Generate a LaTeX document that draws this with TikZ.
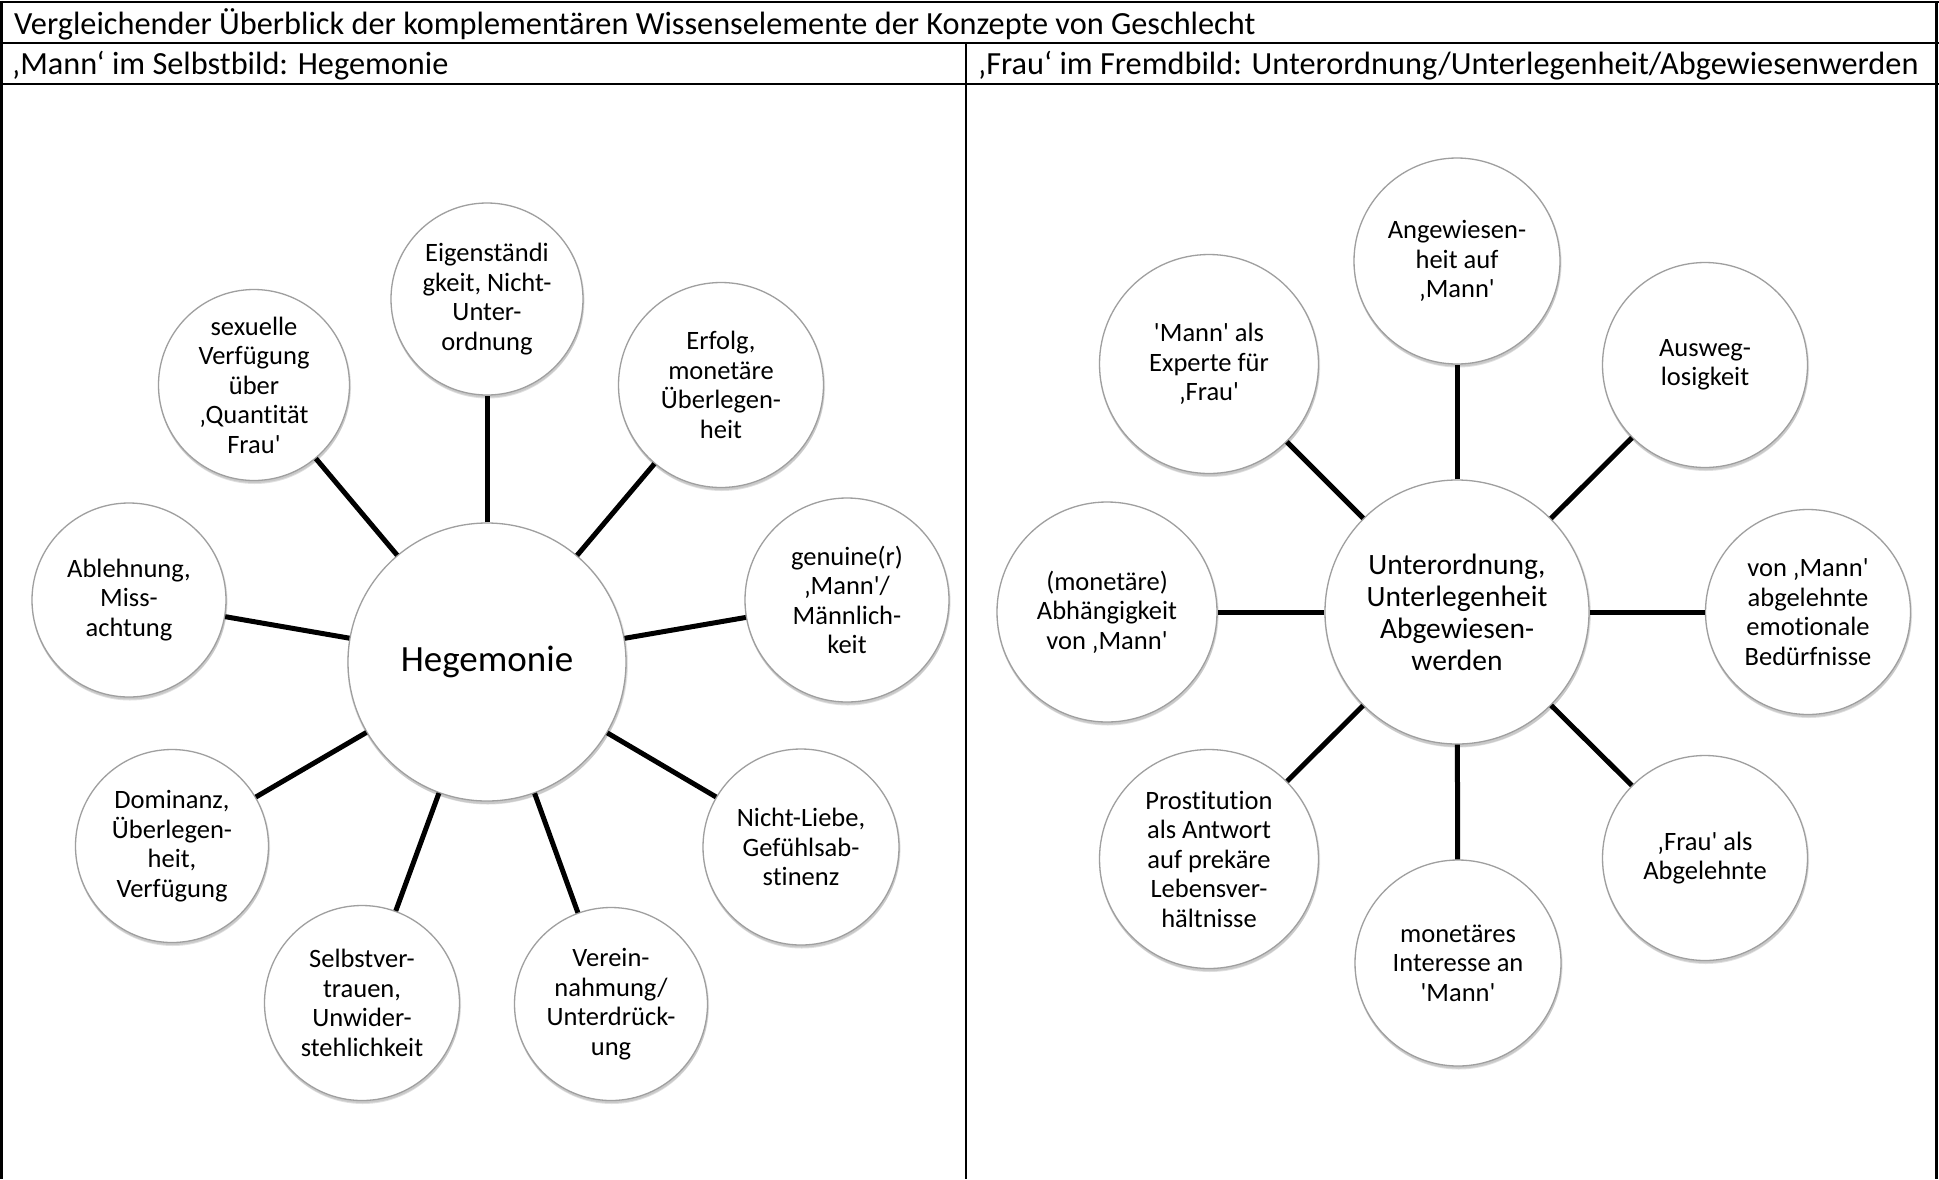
\documentclass[tikz,border=0pt]{standalone}
\usepackage{fontspec}
\setmainfont{Carlito}[Ligatures={TeXOff,NoCommon}]
\usetikzlibrary{shadows}
\begin{document}
\begin{tikzpicture}[x=1pt,y=-1pt,
  rule/.style={line width=2.4pt, black},
  hdr/.style={anchor=base west, inner sep=0pt, font=\fontsize{32.3}{38}\selectfont},
  bubble/.style={circle, draw=gray!75, line width=1.3pt, fill=white, inner sep=0pt,
    minimum size=#1,
    drop shadow={fill=black, opacity=0.10, shadow xshift=0.6pt, shadow yshift=-1.5pt, shadow scale=1.01},
    drop shadow={fill=black, opacity=0.12, shadow xshift=0.8pt, shadow yshift=-3.5pt}},
  txt/.style={align=center, inner sep=0pt, font=\fontsize{26.5}{29.5}\selectfont},
  hubtxt/.style={align=center, inner sep=0pt, font=\fontsize{29.5}{32}\selectfont},
  conn/.style={line width=5pt, black}
]
\useasboundingbox (0,0) rectangle (1939,1179);
\fill[white] (0,0) rectangle (1939,1179);

% table frame
\draw[rule] (0.3,2) -- (1938.7,2);
\draw[rule] (1.5,0.8) -- (1.5,1179);
\draw[rule] (1936.5,0.8) -- (1936.5,1179);
\draw[rule] (0.3,43) -- (1938.7,43);
\draw[rule] (0.3,84) -- (1938.7,84);
\draw[rule] (966,43) -- (966,1179);

% header texts
\node[hdr] (title) at (14,34) {Vergleichender Überblick der komplementären Wissenselemente der Konzepte von Geschlecht};
\node[hdr] (hleft) at (12,74) {‚Mann‘ im Selbstbild: Hegemonie};
\node[hdr] (hright) at (978,74) {‚Frau‘ im Fremdbild: Unterordnung/Unterlegenheit/Abgewiesenwerden};

% left cluster: Hegemonie
\node[bubble=278, label={[inner sep=0pt, font=\fontsize{37}{44}\selectfont]center:Hegemonie}] (heg) at (487,662) {};
\node[bubble=192, label={[txt]center:{Eigenständi\\gkeit, Nicht-\\Unter-\\ordnung}}] (eig) at (487,299) {};
\node[bubble=205, label={[txt]center:{Erfolg,\\monetäre\\Überlegen-\\heit}}] (erf) at (721,385) {};
\node[bubble=204, label={[txt]center:{genuine(r)\\‚Mann'/\\Männlich-\\keit}}] (gen) at (847,600) {};
\node[bubble=196, label={[txt]center:{Nicht-Liebe,\\Gefühlsab-\\stinenz}}] (nic) at (801,847) {};
\node[bubble=193, label={[txt]center:{Verein-\\nahmung/\\Unterdrück-\\ung}}] (ver) at (611,1004) {};
\node[bubble=195, label={[txt]center:{Selbstver-\\trauen,\\Unwider-\\stehlichkeit}}] (sel) at (362,1003) {};
\node[bubble=193, label={[txt]center:{Dominanz,\\Überlegen-\\heit,\\Verfügung}}] (dom) at (172,846) {};
\node[bubble=194, label={[txt]center:{Ablehnung,\\Miss-\\achtung}}] (abl) at (129,600) {};
\node[bubble=191, label={[txt]center:{sexuelle\\Verfügung\\über\\‚Quantität\\Frau'}}] (sex) at (254,385) {};

\foreach \s in {eig,erf,gen,nic,ver,sel,dom,abl,sex}
  \draw[conn] (heg) -- (\s);

% right cluster: Unterordnung
\node[bubble=264, label={[hubtxt]center:{Unterordnung,\\Unterlegenheit\\Abgewiesen-\\werden}}] (unt) at (1457,612) {};
\node[bubble=206, label={[txt]center:{Angewiesen-\\heit auf\\‚Mann'}}] (ang) at (1457,261) {};
\node[bubble=205, label={[txt]center:{Ausweg-\\losigkeit}}] (aus) at (1705,365) {};
\node[bubble=205, label={[txt]center:{von ‚Mann'\\abgelehnte\\emotionale\\Bedürfnisse}}] (von) at (1808,612) {};
\node[bubble=205, label={[txt]center:{‚Frau' als\\Abgelehnte}}] (fra) at (1705,858) {};
\node[bubble=206, label={[txt]center:{monetäres\\Interesse an\\'Mann'}}] (mon) at (1458,963) {};
\node[bubble=219, label={[txt]center:{Prostitution\\als Antwort\\auf prekäre\\Lebensver-\\hältnisse}}] (pro) at (1209,859) {};
\node[bubble=220, label={[txt]center:{(monetäre)\\Abhängigkeit\\von ‚Mann'}}] (abh) at (1107,612) {};
\node[bubble=219, label={[txt]center:{'Mann' als\\Experte für\\‚Frau'}}] (mmx) at (1209,364) {};

\foreach \s in {ang,aus,von,fra,mon,pro,abh,mmx}
  \draw[conn] (unt) -- (\s);
\end{tikzpicture}
\end{document}
